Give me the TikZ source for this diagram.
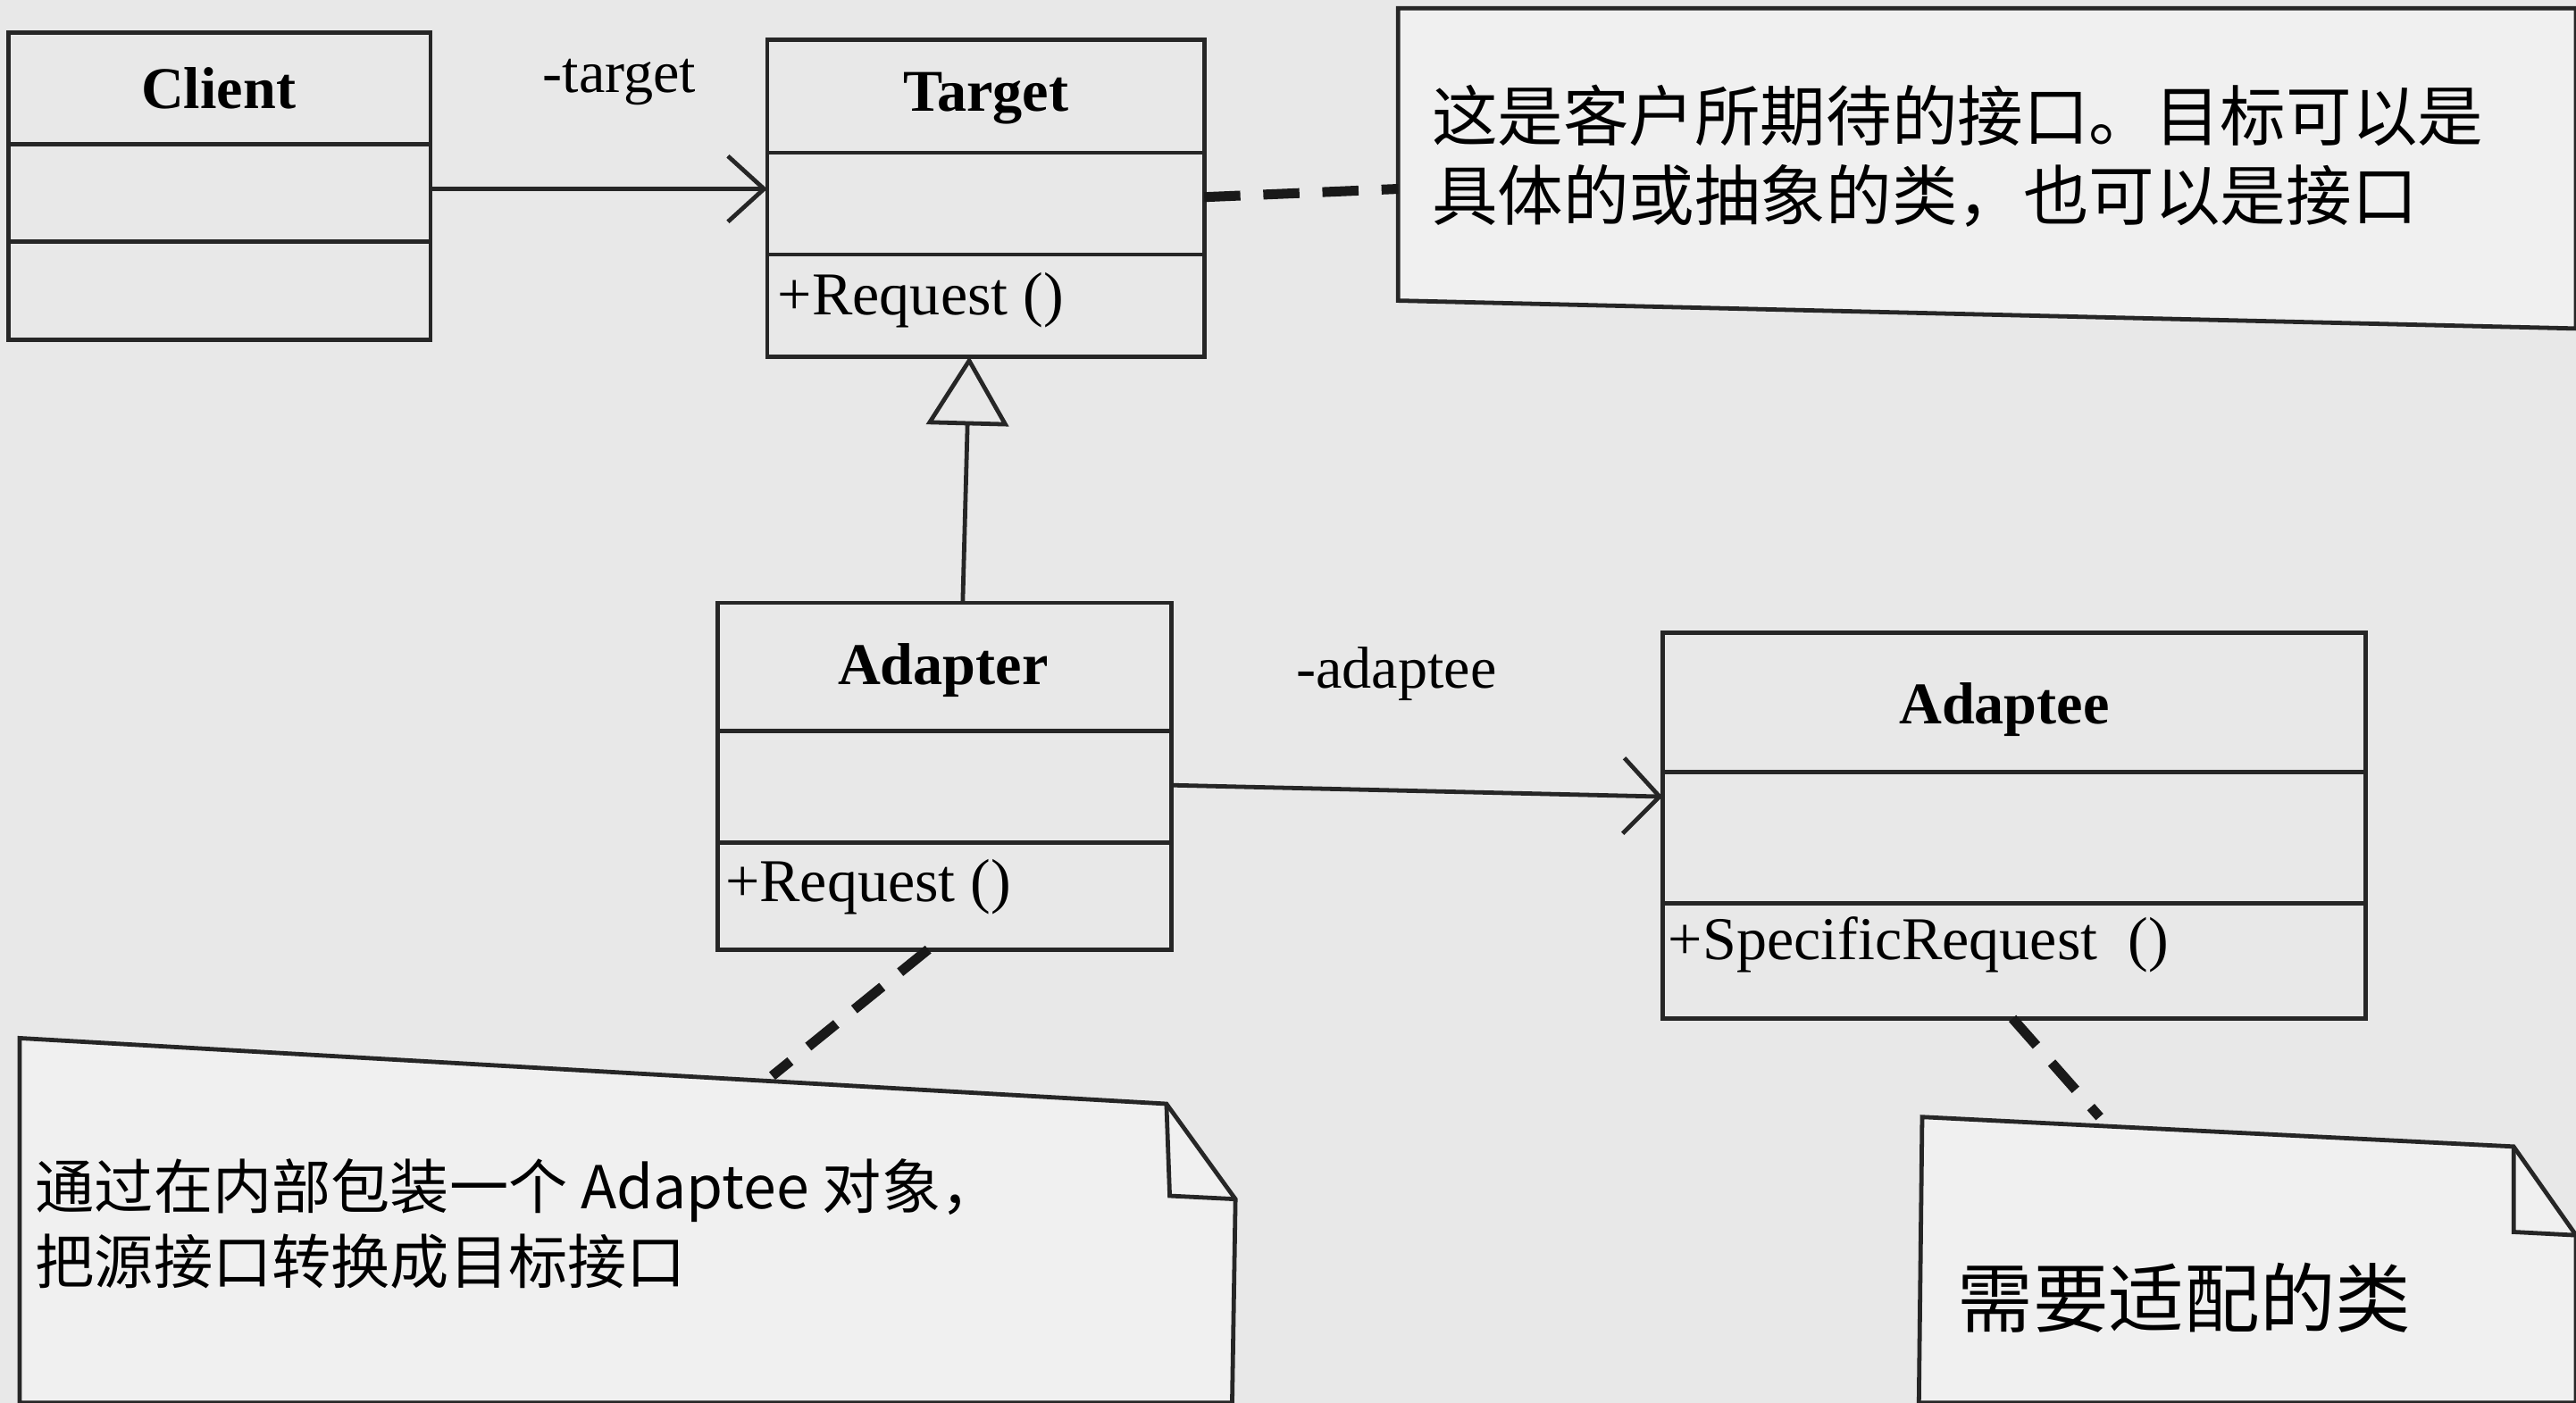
\documentclass[tikz,border=0pt]{standalone}
\usepackage{fontspec}
\setmainfont{Liberation Serif}
\newfontfamily\cjk{Noto Sans CJK SC}
\usetikzlibrary{arrows.meta}
\begin{document}
\begin{tikzpicture}[x=1pt,y=-1pt,
  ln/.style={draw=black!85,line width=2.6pt},
  ttl/.style={font=\fontsize{36}{38}\selectfont\bfseries},
  op/.style={font=\fontsize{37}{40}\selectfont,anchor=west},
  lbl/.style={font=\fontsize{36}{38}\selectfont},
  ntxt/.style={font=\cjk\fontsize{40}{48}\selectfont,anchor=west,align=left},
  dsh/.style={draw=black!90,line width=6pt,dash pattern=on 22pt off 14pt}]
\fill[black!9] (0,0) rectangle (1568,854);
\useasboundingbox (0,0) rectangle (1568,854);
% Client
\draw[ln] (5,20) rectangle (262,207);
\draw[ln] (5,88) -- (262,88); \draw[ln] (5,147) -- (262,147);
\node[ttl] (clientt) at (133,54) {Client};
\coordinate (cR) at (262,115);
% Target
\draw[ln] (467,24) rectangle (733,217);
\draw[ln] (467,93) -- (733,93); \draw[ln] (467,155) -- (733,155);
\node[ttl] (targett) at (600,60) {Target};
\node[op] (treq) at (470,183) {+Request ()};
\coordinate (tL) at (467,115); \coordinate (tR) at (733,120); \coordinate (tB) at (590,217);
% Adapter
\draw[ln] (437,367) rectangle (713,578);
\draw[ln] (437,445) -- (713,445); \draw[ln] (437,513) -- (713,513);
\node[ttl] (adt) at (574,408) {Adapter};
\node[op] (areq) at (438,540) {+Request ()};
\coordinate (aT) at (586,367); \coordinate (aR) at (713,478); \coordinate (aB) at (565,578);
% Adaptee
\draw[ln] (1012,385) rectangle (1440,620);
\draw[ln] (1012,470) -- (1440,470); \draw[ln] (1012,550) -- (1440,550);
\node[ttl] (adeet) at (1220,432) {Adaptee};
\node[op] (sreq) at (1012,575) {+SpecificRequest \ ()};
\coordinate (eL) at (1012,485); \coordinate (eB) at (1225,620);
% notes
\draw[ln,fill=black!6] (851,5) -- (1568,5) -- (1568,200) -- (851,183) -- cycle;
\coordinate (n1L) at (851,115);
\node[ntxt] (n1) at (868,95) {这是客户所期待的接口。目标可以是\\具体的或抽象的类，也可以是接口};
\draw[ln,fill=black!6] (12,632) -- (710,672) -- (752,730) -- (750,854) -- (12,854) -- cycle;
\draw[ln] (710,672) -- (712,728) -- (752,730);
\coordinate (n2T) at (470,655);
\node[ntxt,font=\cjk\fontsize{36}{46}\selectfont] (n2) at (18,745) {通过在内部包装一个 Adaptee 对象，\\把源接口转换成目标接口};
\draw[ln,fill=black!6] (1170,680) -- (1530,698) -- (1568,752) -- (1568,854) -- (1168,854) -- cycle;
\draw[ln] (1530,698) -- (1530,750) -- (1568,752);
\coordinate (n3T) at (1278,680);
\node[ntxt,font=\cjk\fontsize{46}{50}\selectfont] (n3) at (1188,790) {需要适配的类};
% connectors
\draw[ln,-{Straight Barb[length=22pt,width=40pt,line width=2.6pt]}] (cR) -- (tL);
\node[lbl] (tlab) at (377,50) {-target};
\draw[ln,-{Triangle[open,length=42pt,width=50pt,fill=black!9]}] (aT) -- (tB);
\draw[ln,-{Straight Barb[length=22pt,width=46pt,line width=2.6pt]}] (aR) -- (eL);
\node[lbl] (alab) at (850,410) {-adaptee};
\draw[dsh] (tR) -- (n1L);
\draw[dsh] (aB) -- (n2T);
\draw[dsh] (eB) -- (n3T);
\end{tikzpicture}
\end{document}
